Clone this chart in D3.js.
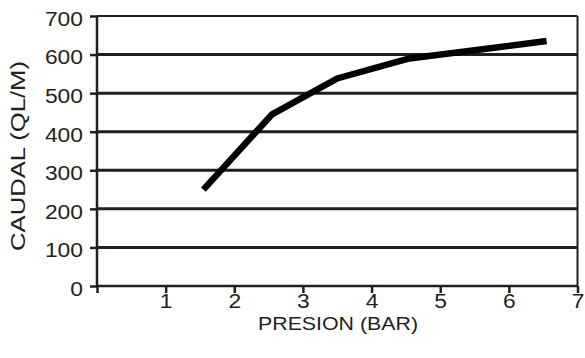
<!DOCTYPE html>
<html><head><meta charset="utf-8">
<script src="https://cdn.jsdelivr.net/npm/d3@7"></script>
<style>body{margin:0;background:#fff}svg{display:block}</style>
</head><body>
<svg id="c" width="585" height="358"></svg>
<script>
const presion = [1.55, 2.55, 3.5, 4.55, 6.55];
const caudal = [250, 445, 538, 590, 635];
const xTicks = [1, 2, 3, 4, 5, 6, 7];
const yTicks = [0, 100, 200, 300, 400, 500, 600, 700];
const xTitle = "PRESION (BAR)";
const yTitle = "CAUDAL  (QL/M)";

const svg = d3.select("#c");
const ink = "#231f20";
const m = {l: 97, r: 577.5, t: 16, b: 286};
const x = d3.scaleLinear().domain([0, 7]).range([m.l, m.r]);
const y = d3.scaleLinear().domain([0, 700]).range([m.b, m.t]);
const font = "'Liberation Sans', Arial, sans-serif";
const fs = 19.5, digitW = 12.7;

// gridlines
svg.append("g").selectAll("line").data(yTicks.filter(d => d > 0 && d < 700)).join("line")
  .attr("x1", m.l).attr("x2", m.r).attr("y1", d => y(d)).attr("y2", d => y(d))
  .attr("stroke", ink).attr("stroke-width", 3);
// frame top/right
svg.append("line").attr("x1", m.l).attr("x2", m.r).attr("y1", y(700)).attr("y2", y(700)).attr("stroke", ink).attr("stroke-width", 2);
svg.append("line").attr("x1", m.r).attr("x2", m.r).attr("y1", m.t).attr("y2", m.b).attr("stroke", ink).attr("stroke-width", 2);

// axes
const yAxis = d3.axisLeft(y).tickValues(yTicks).tickSize(7).tickPadding(7);
const gy = svg.append("g").attr("transform", `translate(${m.l},0)`).call(yAxis);
const xAxis = d3.axisBottom(x).tickValues([0, ...xTicks]).tickSize(7).tickPadding(0).tickFormat(d => d === 0 ? "" : d);
const gx = svg.append("g").attr("transform", `translate(0,${m.b})`).call(xAxis);
[gx, gy].forEach(g => {
  g.select(".domain").attr("stroke", ink).attr("stroke-width", 2.5);
  g.selectAll(".tick line").attr("stroke", ink).attr("stroke-width", 2.5);
  g.selectAll(".tick text").attr("fill", ink).style("font-family", font).style("font-size", fs + "px")
    .attr("textLength", function() { return this.textContent.length * digitW; })
    .attr("lengthAdjust", "spacingAndGlyphs");
});
gy.selectAll(".tick text").attr("dy", "0.48em");
gx.selectAll(".tick text").attr("dy", "0.78em");
gy.select(".domain").attr("d", `M0,${m.t}V${m.b}`);
gx.select(".domain").attr("d", `M${m.l},0H${m.r}`);

// line
const line = d3.line().x((d, i) => x(presion[i])).y(d => y(d));
svg.append("path").datum(caudal).attr("d", line)
  .attr("fill", "none").attr("stroke", "#000").attr("stroke-width", 6.5)
  .attr("stroke-linejoin", "miter").attr("stroke-linecap", "butt");

// titles
svg.append("text").attr("x", 338).attr("y", 330).attr("text-anchor", "middle")
  .attr("fill", ink).style("font-family", font).style("font-size", "19px")
  .attr("textLength", 160).attr("lengthAdjust", "spacingAndGlyphs").text(xTitle);
svg.append("text").attr("transform", `translate(25,156) rotate(-90)`).attr("text-anchor", "middle")
  .attr("fill", ink).style("font-family", font).style("font-size", "21px")
  .attr("textLength", 190).attr("lengthAdjust", "spacingAndGlyphs").text(yTitle);
</script>
</body></html>
